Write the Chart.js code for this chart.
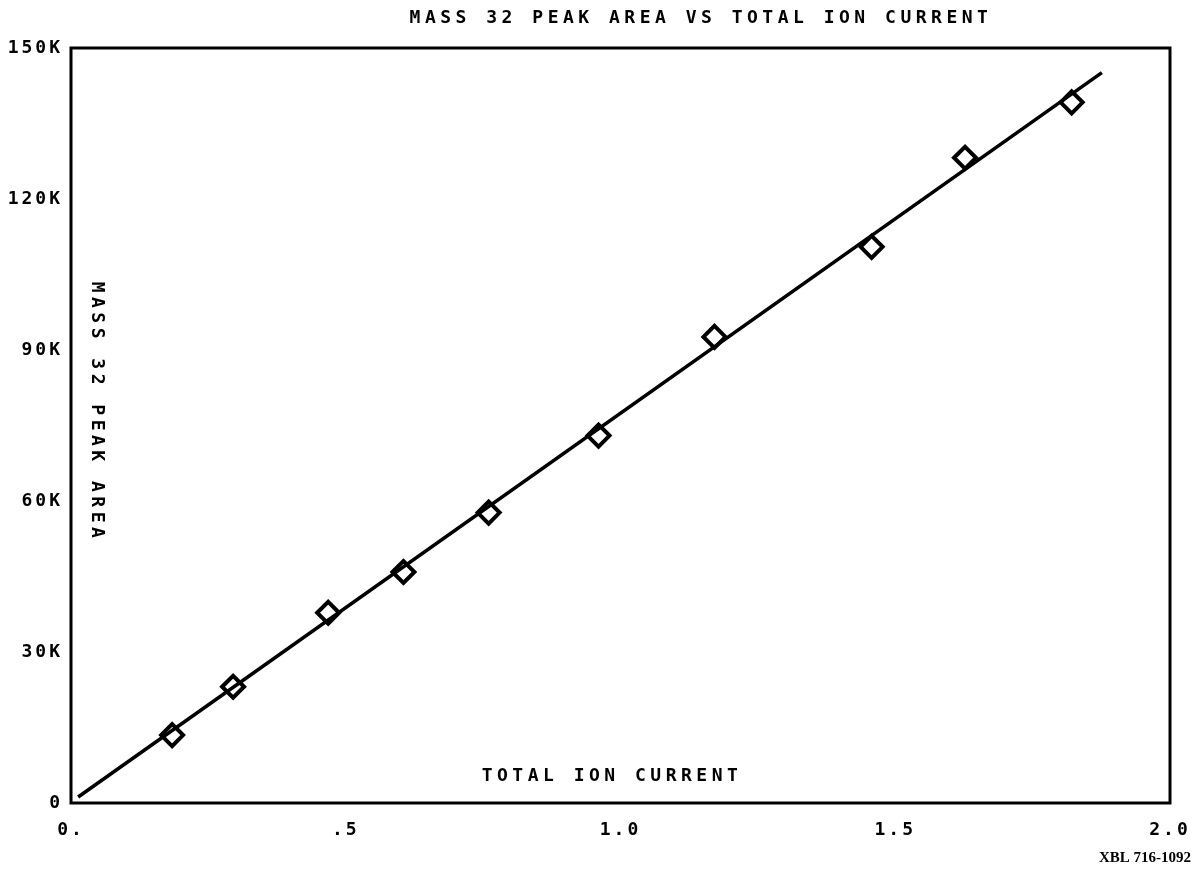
<!DOCTYPE html>
<html>
<head>
<meta charset="utf-8">
<script src="https://cdn.jsdelivr.net/npm/chart.js@4"></script>
<style>
  body { margin: 0; background: #fff; }
  canvas { display: block; }
</style>
</head>
<body>
<canvas id="ionChart" width="1194" height="873"></canvas>
<script>
// measured points: total ion current vs mass 32 peak area
const ionCurrent = [0.184, 0.295, 0.468, 0.605, 0.760, 0.960, 1.171, 1.457, 1.627, 1.821];
const peakArea = [13500, 23100, 37800, 45900, 57700, 73000, 92600, 110500, 128200, 139200];

// fitted line ends
const fitX = [0.013, 1.876];
const fitY = [1200, 145100];

const xTickLabels = { 0: '0.', 0.5: '.5', 1: '1.0', 1.5: '1.5', 2: '2.0' };
const yTickLabels = { 0: '0', 30000: '30K', 60000: '60K', 90000: '90K', 120000: '120K', 150000: '150K' };

const plotFont = 'bold 18px "DejaVu Sans Mono"';

const plotterText = {
  id: 'plotterText',
  beforeDraw(chart) {
    chart.ctx.letterSpacing = '3px';
  },
  afterDraw(chart) {
    const { ctx, chartArea } = chart;
    ctx.save();
    // frame
    ctx.strokeStyle = '#000';
    ctx.lineWidth = 3;
    ctx.strokeRect(chartArea.left, chartArea.top, chartArea.right - chartArea.left, chartArea.bottom - chartArea.top);

    ctx.fillStyle = '#000';
    ctx.font = plotFont;
    ctx.letterSpacing = '4.5px';
    ctx.textAlign = 'center';
    ctx.textBaseline = 'middle';
    ctx.fillText('MASS 32 PEAK AREA VS TOTAL ION CURRENT', 701, 18);
    ctx.fillText('TOTAL ION CURRENT', 612, 776);

    ctx.save();
    ctx.translate(97, 412);
    ctx.rotate(Math.PI / 2);
    ctx.fillText('MASS 32 PEAK AREA', 0, 0);
    ctx.restore();

    ctx.letterSpacing = '0px';
    ctx.font = 'bold 15px "Liberation Serif"';
    ctx.textAlign = 'right';
    ctx.fillText('XBL 716-1092', 1191, 858);
    ctx.restore();
  }
};

const ctx = document.getElementById('ionChart').getContext('2d');
new Chart(ctx, {
  type: 'scatter',
  data: {
    datasets: [
      {
        label: 'fit',
        type: 'line',
        data: fitX.map((x, i) => ({ x, y: fitY[i] })),
        borderColor: '#000',
        borderWidth: 3.5,
        pointRadius: 0,
        fill: false
      },
      {
        label: 'peak area',
        data: ionCurrent.map((x, i) => ({ x, y: peakArea[i] })),
        pointStyle: 'rectRot',
        pointRadius: 11,
        pointBorderWidth: 4,
        pointBorderColor: '#000',
        pointBackgroundColor: 'rgba(255,255,255,0)'
      }
    ]
  },
  options: {
    responsive: false,
    animation: false,
    layout: { padding: { left: 0, top: 48, right: 24, bottom: 0 } },
    plugins: {
      legend: { display: false },
      tooltip: { enabled: false }
    },
    scales: {
      x: {
        type: 'linear',
        min: 0,
        max: 2,
        grid: { display: false, drawTicks: false },
        border: { display: false },
        ticks: {
          stepSize: 0.5,
          padding: 17,
          color: '#000',
          font: { family: 'DejaVu Sans Mono', size: 18, weight: 'bold' },
          maxRotation: 0,
          callback: v => xTickLabels[v] ?? ''
        },
        afterFit(scale) {
          scale.height = 70;
          scale.paddingLeft = 0;
          scale.paddingRight = 0;
        }
      },
      y: {
        min: 0,
        max: 150000,
        grid: { display: false, drawTicks: false },
        border: { display: false },
        ticks: {
          stepSize: 30000,
          padding: 8,
          color: '#000',
          font: { family: 'DejaVu Sans Mono', size: 18, weight: 'bold' },
          callback: v => yTickLabels[v] ?? ''
        },
        afterFit(scale) {
          scale.width = 71;
          scale.paddingTop = 0;
          scale.paddingBottom = 0;
        }
      }
    }
  },
  plugins: [plotterText]
});
</script>
</body>
</html>
